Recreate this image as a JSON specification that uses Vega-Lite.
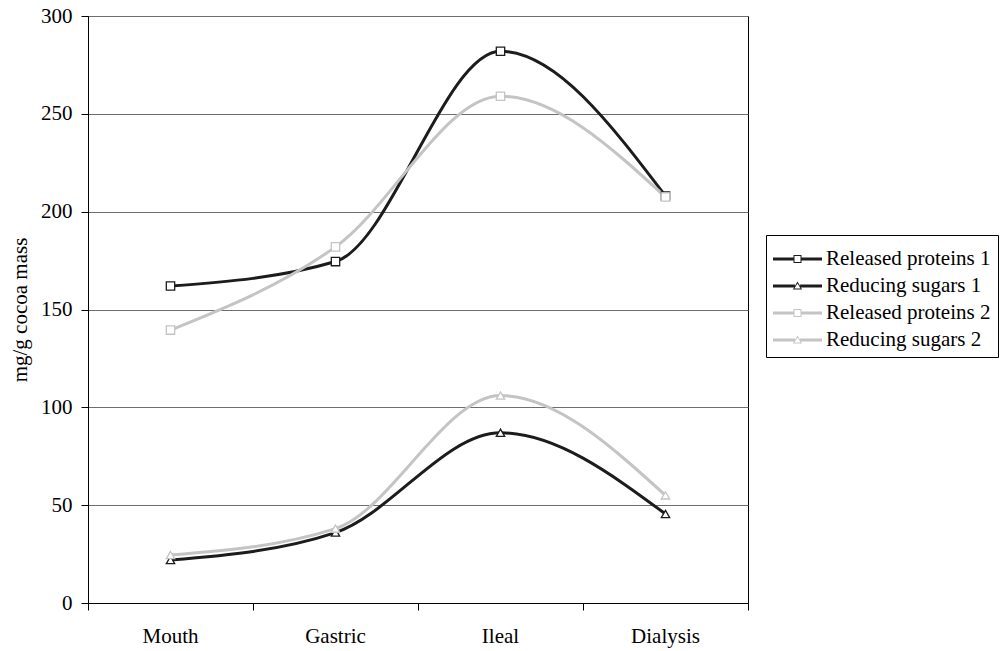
{
  "$schema": "https://vega.github.io/schema/vega-lite/v6.json",
  "width": 660,
  "height": 587,
  "autosize": "none",
  "padding": {"left": 88, "top": 16, "right": 254, "bottom": 48},
  "background": "white",
  "config": {
    "font": "Liberation Serif",
    "view": {"stroke": "black", "strokeWidth": 1}
  },
  "data": {
    "values": [
      {"series": "Released proteins 1", "stage": "Mouth", "value": 162},
      {"series": "Released proteins 1", "stage": "Gastric", "value": 174.5},
      {"series": "Released proteins 1", "stage": "Ileal", "value": 282},
      {"series": "Released proteins 1", "stage": "Dialysis", "value": 208},
      {"series": "Reducing sugars 1", "stage": "Mouth", "value": 22},
      {"series": "Reducing sugars 1", "stage": "Gastric", "value": 36},
      {"series": "Reducing sugars 1", "stage": "Ileal", "value": 87},
      {"series": "Reducing sugars 1", "stage": "Dialysis", "value": 45.5},
      {"series": "Released proteins 2", "stage": "Mouth", "value": 139.5},
      {"series": "Released proteins 2", "stage": "Gastric", "value": 182},
      {"series": "Released proteins 2", "stage": "Ileal", "value": 259},
      {"series": "Released proteins 2", "stage": "Dialysis", "value": 207.5},
      {"series": "Reducing sugars 2", "stage": "Mouth", "value": 24.5},
      {"series": "Reducing sugars 2", "stage": "Gastric", "value": 38},
      {"series": "Reducing sugars 2", "stage": "Ileal", "value": 106},
      {"series": "Reducing sugars 2", "stage": "Dialysis", "value": 55}
    ]
  },
  "encoding": {
    "y": {
      "field": "value",
      "type": "quantitative",
      "scale": {"domain": [0, 300], "nice": false, "zero": true},
      "axis": {
        "values": [0, 50, 100, 150, 200, 250, 300],
        "title": "mg/g cocoa mass",
        "titleFont": "Liberation Serif",
        "titleFontSize": 21,
        "titleFontWeight": "normal",
        "titleColor": "black",
        "titlePadding": 10,
        "labelFont": "Liberation Serif",
        "labelFontSize": 21,
        "labelColor": "black",
        "labelPadding": 9,
        "tickSize": 7,
        "tickColor": "black",
        "domainColor": "black",
        "grid": true,
        "gridColor": "#6e6e6e",
        "gridWidth": 1
      }
    }
  },
  "resolve": {
    "scale": {"color": "independent", "shape": "independent"},
    "axis": {"x": "independent"}
  },
  "layer": [
    {
      "mark": {"type": "line", "interpolate": "monotone", "strokeWidth": 3},
      "encoding": {
        "x": {
          "field": "stage",
          "type": "nominal",
          "sort": ["Mouth", "Gastric", "Ileal", "Dialysis"],
          "scale": {"paddingInner": 0, "paddingOuter": 0},
          "axis": {
            "orient": "bottom",
            "title": null,
            "labelAngle": 0,
            "labelFont": "Liberation Serif",
            "labelFontSize": 21,
            "labelColor": "black",
            "labelPadding": 22,
            "ticks": false,
            "tickSize": 0,
            "domainColor": "black",
            "grid": false
          }
        },
        "color": {
          "field": "series",
          "type": "nominal",
          "scale": {
            "domain": ["Released proteins 1", "Reducing sugars 1", "Released proteins 2", "Reducing sugars 2"],
            "range": ["#1c1c1c", "#1c1c1c", "#c4c4c4", "#c4c4c4"]
          },
          "legend": null
        }
      }
    },
    {
      "mark": {"type": "point", "filled": false, "fill": "white", "strokeWidth": 1.3, "opacity": 1, "size": 70},
      "encoding": {
        "x": {
          "field": "stage",
          "type": "nominal",
          "sort": ["Mouth", "Gastric", "Ileal", "Dialysis"],
          "scale": {"paddingInner": 0, "paddingOuter": 0},
          "axis": {
            "orient": "bottom",
            "title": null,
            "labels": false,
            "ticks": true,
            "tickSize": 7,
            "tickColor": "black",
            "tickBand": "extent",
            "domain": false,
            "grid": false
          }
        },
        "color": {
          "field": "series",
          "type": "nominal",
          "scale": {
            "domain": ["Released proteins 1", "Reducing sugars 1", "Released proteins 2", "Reducing sugars 2"],
            "range": ["#1c1c1c", "#1c1c1c", "#c4c4c4", "#c4c4c4"]
          },
          "legend": null
        },
        "shape": {
          "field": "series",
          "type": "nominal",
          "scale": {
            "domain": ["Released proteins 1", "Reducing sugars 1", "Released proteins 2", "Reducing sugars 2"],
            "range": ["square", "triangle-up", "square", "triangle-up"]
          },
          "legend": null
        }
      }
    },
    {
      "mark": {"type": "point", "filled": true, "size": 0, "opacity": 1},
      "encoding": {
        "x": {
          "field": "stage",
          "type": "nominal",
          "sort": ["Mouth", "Gastric", "Ileal", "Dialysis"],
          "scale": {"paddingInner": 0, "paddingOuter": 0},
          "axis": null
        },
        "color": {
          "field": "series",
          "type": "nominal",
          "scale": {
            "domain": ["Released proteins 1", "Reducing sugars 1", "Released proteins 2", "Reducing sugars 2"],
            "range": ["#1c1c1c", "#1c1c1c", "#c4c4c4", "#c4c4c4"]
          },
          "legend": {
            "title": null,
            "orient": "none",
            "legendX": 678,
            "legendY": 219,
            "padding": 7,
            "strokeColor": "black",
            "fillColor": "white",
            "labelFont": "Liberation Serif",
            "labelFontSize": 21,
            "labelColor": "black",
            "labelOffset": 19,
            "symbolSize": 1156,
            "symbolOpacity": 1,
            "symbolStrokeWidth": 0,
            "rowPadding": 0,
            "labelLimit": 300
          }
        },
        "shape": {
          "field": "series",
          "type": "nominal",
          "scale": {
            "domain": ["Released proteins 1", "Reducing sugars 1", "Released proteins 2", "Reducing sugars 2"],
            "range": [
              "M-1,-0.088H0.206V0.088H-1ZM0.676,-0.088H1.882V0.088H0.676ZM0.206,-0.235H0.676V0.235H0.206ZM0.265,-0.176V0.176H0.617V-0.176Z",
              "M-1,-0.088H0.29V0.088H-1ZM0.593,-0.088H1.882V0.088H0.593ZM0.441,-0.26L0.71,0.2L0.172,0.2ZM0.441,-0.14L0.26,0.14L0.622,0.14Z",
              "M-1,-0.088H0.206V0.088H-1ZM0.676,-0.088H1.882V0.088H0.676ZM0.206,-0.235H0.676V0.235H0.206ZM0.265,-0.176V0.176H0.617V-0.176Z",
              "M-1,-0.088H0.29V0.088H-1ZM0.593,-0.088H1.882V0.088H0.593ZM0.441,-0.26L0.71,0.2L0.172,0.2ZM0.441,-0.14L0.26,0.14L0.622,0.14Z"
            ]
          }
        }
      }
    }
  ]
}
